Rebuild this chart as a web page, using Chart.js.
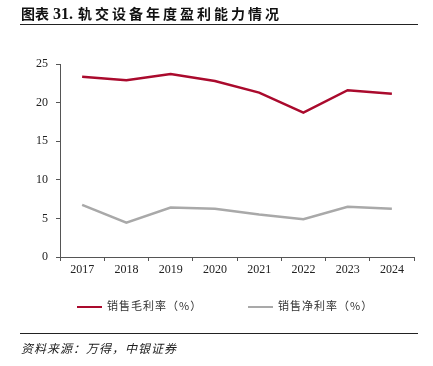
<!DOCTYPE html>
<html lang="zh">
<head>
<meta charset="UTF-8">
<title>轨交设备年度盈利能力情况</title>
<script src="https://cdn.jsdelivr.net/npm/chart.js"></script>
<style>
  body { margin: 0; background: #fff; }
  #wrap { position: relative; width: 433px; height: 366px; overflow: hidden; }
  #chart { position: absolute; left: 0; top: 0; }
  .title { position: absolute; left: 21px; top: 3px; font: bold 14px "Noto Sans CJK SC", sans-serif; color: #111; white-space: nowrap; }
  .title .num { font-family: "Liberation Serif", serif; font-size: 16px; margin: 0 5px 0 4px; }
  .title .txt { letter-spacing: 3px; }
  .rule { position: absolute; left: 20px; width: 398px; height: 0; border-top: 1.5px solid #222; }
  .legend { position: absolute; top: 297px; font: 11px "Noto Sans CJK SC", sans-serif; color: #333; white-space: nowrap; letter-spacing: 1px; }
  .legend i { display: inline-block; width: 25px; height: 0; border-top: 2.5px solid; vertical-align: middle; margin-right: 5px; }
  .source { position: absolute; left: 21px; top: 339px; font: italic 12px "Noto Sans CJK SC", sans-serif; color: #222; white-space: nowrap; letter-spacing: 1px; }
</style>
</head>
<body>
<div id="wrap">
  <canvas id="chart" width="433" height="366"></canvas>
  <div class="title">图表<span class="num">31.</span><span class="txt">轨交设备年度盈利能力情况</span></div>
  <div class="rule" style="top:24px"></div>
  <div class="legend" id="legend"></div>
  <div class="rule" style="top:333px"></div>
  <div class="source">资料来源：万得，中银证券</div>
</div>
<script>
// data
const years = ['2017', '2018', '2019', '2020', '2021', '2022', '2023', '2024'];
const grossMargin = [23.35, 22.9, 23.7, 22.8, 21.3, 18.7, 21.6, 21.15];
const netMargin = [6.75, 4.45, 6.4, 6.25, 5.5, 4.9, 6.5, 6.25];
const seriesNames = ['销售毛利率（%）', '销售净利率（%）'];
const seriesColors = ['#AA0A2D', '#A9A9A9'];
const yTicks = [0, 5, 10, 15, 20, 25];

const axisColor = '#555';

const chart = new Chart(document.getElementById('chart'), {
    type: 'line',
    data: {
        labels: years,
        datasets: [
            { label: seriesNames[0], data: grossMargin, borderColor: seriesColors[0] },
            { label: seriesNames[1], data: netMargin, borderColor: seriesColors[1] }
        ]
    },
    options: {
        responsive: false,
        animation: false,
        elements: {
            line: { borderWidth: 2.5, tension: 0, fill: false },
            point: { radius: 0 }
        },
        layout: { padding: { left: 0, top: 64, right: 19, bottom: 89 } },
        plugins: { legend: { display: false }, tooltip: { enabled: false } },
        scales: {
            x: {
                offset: true,
                grid: { offset: true, drawOnChartArea: false, drawTicks: true, tickLength: 4, color: axisColor },
                border: { color: axisColor, width: 1 },
                ticks: { color: '#222', font: { family: 'Liberation Serif', size: 12 }, padding: 2, maxRotation: 0 },
                afterFit: s => { s.height = 20; }
            },
            y: {
                min: 0,
                max: 25,
                afterBuildTicks: s => { s.ticks = yTicks.map(v => ({ value: v })); },
                grid: { drawOnChartArea: false, drawTicks: true, tickLength: 4, color: axisColor },
                border: { color: axisColor, width: 1 },
                ticks: { color: '#222', font: { family: 'Liberation Serif', size: 12 }, padding: 8 },
                afterFit: s => { s.width = 60; }
            }
        }
    }
});

// html legend built from the datasets
const legendX = [77, 248];
const legendEl = document.getElementById('legend');
chart.data.datasets.forEach((ds, i) => {
    const item = document.createElement('span');
    item.style.position = 'absolute';
    item.style.left = legendX[i] + 'px';
    item.innerHTML = '<i style="border-color:' + ds.borderColor + '"></i>' + ds.label;
    legendEl.appendChild(item);
});
</script>
</body>
</html>
